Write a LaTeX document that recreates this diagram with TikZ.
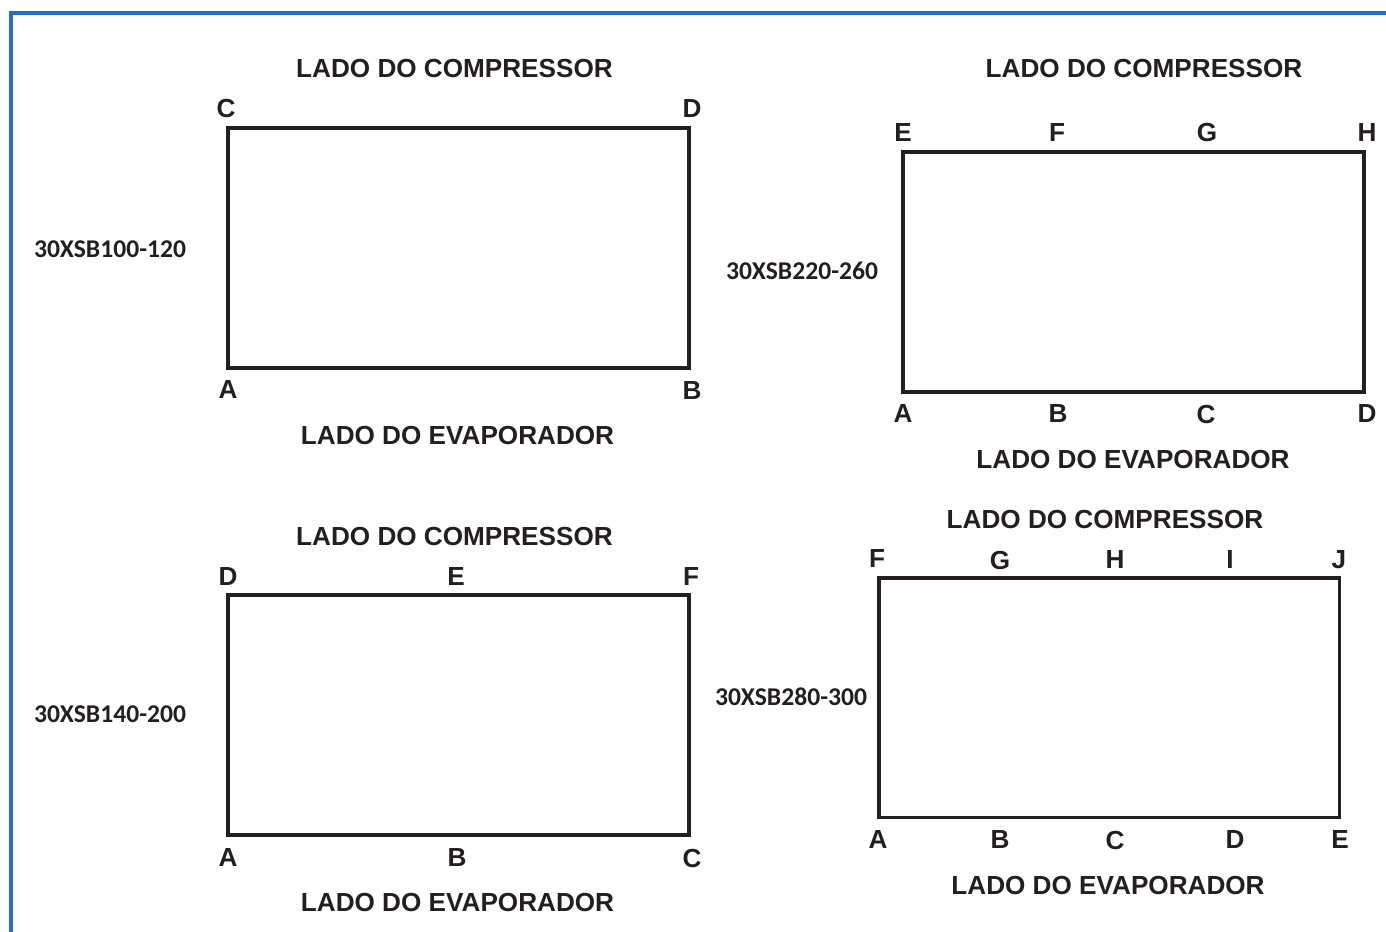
\documentclass[tikz,border=0pt]{standalone}
\usepackage{fontspec}
\setmainfont{Liberation Sans}
\newfontfamily\modelfont{Carlito}
\definecolor{ink}{HTML}{231F20}
\definecolor{frameblue}{HTML}{2A6EBB}
\tikzset{
  side/.style={font=\fontsize{19.6}{19.6}\selectfont\bfseries, text=ink, inner sep=0pt},
  pin/.style={font=\fontsize{19.6}{19.6}\selectfont\bfseries, text=ink, inner sep=0pt},
  model/.style={font=\modelfont\fontsize{19.2}{19.2}\selectfont\bfseries, text=ink, inner sep=0pt},
  box/.style={draw=ink, line width=2.3pt},
  frame/.style={draw=frameblue, line width=3pt}
}
\begin{document}
\begin{tikzpicture}[x=0.75pt,y=-0.75pt]
\useasboundingbox (0,0) rectangle (1386,932);
% frame
\coordinate (fa) at (11,932);
\coordinate (fb) at (11,12.5);
\coordinate (fc) at (1386,12.5);
\draw[frame] (fa) -- (fb) -- (fc);

% ---------- panel 1 ----------
\coordinate (p1a) at (228,128);
\coordinate (p1b) at (689,368);
\draw[box] (p1a) rectangle (p1b);
\node[side] (t1) at (454.5,69) {LADO DO COMPRESSOR};
\node[side] (e1) at (457.5,435) {LADO DO EVAPORADOR};
\node[model] (m1) at (110,249) {30XSB100-120};
\node[pin] (p1C) at (226,109) {C};
\node[pin] (p1D) at (692,109) {D};
\node[pin] (p1A) at (228,390) {A};
\node[pin] (p1B) at (692,391) {B};

% ---------- panel 2 ----------
\coordinate (p2a) at (903,152);
\coordinate (p2b) at (1364,392);
\draw[box] (p2a) rectangle (p2b);
\node[side] (t2) at (1144,69) {LADO DO COMPRESSOR};
\node[side] (e2) at (1133,459) {LADO DO EVAPORADOR};
\node[model] (m2) at (802,271) {30XSB220-260};
\node[pin] (p2E) at (903,133) {E};
\node[pin] (p2F) at (1057,133) {F};
\node[pin] (p2G) at (1207,133) {G};
\node[pin] (p2H) at (1367,133) {H};
\node[pin] (p2A) at (903,414) {A};
\node[pin] (p2B) at (1058,414) {B};
\node[pin] (p2C) at (1206,414) {C};
\node[pin] (p2D) at (1367,414) {D};

% ---------- panel 3 ----------
\coordinate (p3a) at (228,595);
\coordinate (p3b) at (689,835);
\draw[box] (p3a) rectangle (p3b);
\node[side] (t3) at (454.5,536) {LADO DO COMPRESSOR};
\node[side] (e3) at (457.5,902) {LADO DO EVAPORADOR};
\node[model] (m3) at (110,714) {30XSB140-200};
\node[pin] (p3D) at (228,577) {D};
\node[pin] (p3E) at (456,577) {E};
\node[pin] (p3F) at (691,577) {F};
\node[pin] (p3A) at (228,858) {A};
\node[pin] (p3B) at (457,858) {B};
\node[pin] (p3C) at (692,858) {C};

% ---------- panel 4 ----------
\coordinate (p4a) at (879,578);
\coordinate (p4b) at (1339.5,817.5);
\draw[box] (p4a) rectangle (p4b);
\node[side] (t4) at (1105,519) {LADO DO COMPRESSOR};
\node[side] (e4) at (1108,885) {LADO DO EVAPORADOR};
\node[model] (m4) at (791,697) {30XSB280-300};
\node[pin] (p4F) at (877,559) {F};
\node[pin] (p4G) at (1000,560) {G};
\node[pin] (p4H) at (1115,560) {H};
\node[pin] (p4I) at (1230,560) {I};
\node[pin] (p4J) at (1339,560) {J};
\node[pin] (p4A) at (878,840) {A};
\node[pin] (p4B) at (1000,840) {B};
\node[pin] (p4C) at (1115,840) {C};
\node[pin] (p4D) at (1235,840) {D};
\node[pin] (p4E) at (1340,840) {E};
\end{tikzpicture}
\end{document}
